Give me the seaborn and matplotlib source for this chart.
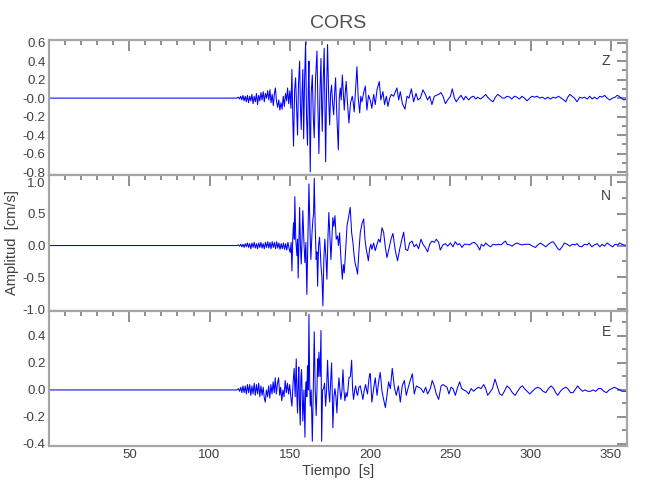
import matplotlib
matplotlib.use("Agg")
import matplotlib.pyplot as plt
import seaborn as sns
import numpy as np
from matplotlib.ticker import MultipleLocator, FixedLocator, FixedFormatter

# ---------------- data ----------------
z_time = [0, 117, 118, 118.7, 119.4, 120.1, 120.8, 121.5, 122.2, 122.9, 123.6, 124.3, 125, 125.7, 126.4, 127.1,
          127.8, 128.5, 129.2, 129.9, 130.6, 131.3, 132, 132.7, 133.4, 134.1, 134.8, 135.5, 136.2, 136.9, 137.6,
          138.3, 139, 139.7, 140.4, 141, 141.7, 142.4, 143.1, 143.8, 144.5, 145.2, 145.9, 146.6, 147.3, 148,
          148.6, 149.3, 150, 150.7, 151.3, 151.8, 152.3, 153.0, 153.6, 154.2, 154.8, 155.4, 156.1, 156.6, 157.1,
          157.6, 158.1, 158.6, 159.2, 159.8, 160.4, 161.0, 161.5, 161.9, 162.3, 162.7, 163.3, 164.0, 164.6,
          165.2, 166.0, 166.9, 167.5, 168.1, 168.8, 169.4, 169.8, 170.2, 170.8, 171.4, 171.9, 172.3, 172.9,
          173.5, 174.2, 174.8, 175.4, 176.0, 176.6, 177.3, 177.9, 178.5, 179.3, 180.2, 180.8, 181.4, 182.0,
          182.7, 183.3, 183.9, 184.5, 185.1, 185.9, 186.8, 187.8, 188.9, 189.5, 190.1, 191.0, 191.8, 192.6,
          193.5, 194.2, 194.9, 196.0, 197.0, 197.5, 198.0, 199.0, 200.1, 201.1, 202.2, 203.2, 204.3, 205.7,
          206.7, 208.0, 209.0, 210.1, 211.1, 212.2, 213.2, 214.6, 216.7, 217.8, 218.8, 220.1, 221.7, 223.0,
          224.2, 225.7, 227.1, 228.6, 229.8, 231.3, 232.9, 234.4, 235.8, 237.1, 238.5, 240.0, 241.2, 242.7,
          244.1, 245.4, 246.9, 248.3, 250.0, 251.2, 252.5, 253.7, 255.2, 256.6, 258.3, 259.5, 261.4, 262.9,
          264.5, 265.8, 267.0, 268.7, 270.3, 272.0, 273.2, 274.9, 276.6, 278.0, 279.5, 281.1, 282.4, 283.8,
          285.3, 287.0, 288.2, 289.9, 291.5, 293.0, 294.6, 296.1, 297.8, 299.4, 300.9, 302.3, 304.0, 305.7,
          307.3, 309.0, 310.6, 312.3, 314.0, 315.6, 317.3, 319.0, 320.6, 321.9, 323.1, 324.4, 325.8, 327.3,
          328.9, 330.6, 332.0, 333.5, 335.2, 336.8, 338.3, 339.7, 341.4, 343.1, 344.5, 346.0, 347.6, 349.3,
          351.0, 352.6, 353.9, 355.1, 356.4, 358.0, 360]
z_amp = [0, 0, 0.01, -0.01, 0.02, -0.02, 0.03, -0.03, 0.02, -0.04, 0.03, -0.05, 0.02, -0.03, 0.04, -0.06,
         0.02, -0.04, 0.05, -0.07, 0.03, -0.03, 0.06, -0.02, 0.07, -0.04, 0.05, 0.0, 0.08, -0.02, 0.09,
         -0.05, 0.04, -0.08, 0.05, 0.11, -0.03, -0.10, -0.02, -0.13, -0.05, -0.12, 0.02, -0.09, 0.05, -0.03,
         0.11, -0.06, 0.08, -0.11, 0.31, -0.20, -0.52, 0.10, 0.22, -0.10, -0.40, 0.15, 0.40, -0.10, -0.34,
         0.05, 0.31, -0.44, 0.20, 0.60, -0.20, -0.51, 0.10, 0.40, -0.20, -0.80, 0.05, 0.25, -0.20,
         -0.43, 0.20, 0.51, -0.10, -0.60, 0.10, 0.43, -0.10, -0.36, 0.20, 0.54, -0.20, -0.69, 0.10,
         0.58, 0.0, -0.29, 0.05, 0.14, -0.05, -0.18, 0.05, 0.22, -0.20, -0.56, 0.0, 0.11, -0.02,
         0.25, 0.05, -0.13, 0.05, 0.18, -0.05, -0.27, -0.05, 0.02, -0.05, -0.15, 0.10, 0.34, 0.0,
         -0.16, 0.02, -0.04, 0.06, 0.13, 0.0, -0.13, 0.03, -0.02, -0.11, 0.04, -0.07, 0.09, 0.18,
         -0.02, 0.07, -0.07, 0.02, -0.09, 0.0, 0.04, 0.02, 0.11, -0.02, 0.07, -0.06, -0.12, 0.02,
         0.0, 0.10, -0.04, 0.05, -0.02, 0.0, 0.09, 0.04, -0.02, 0.02, -0.07, 0.02, 0.03, 0.04,
         0.06, 0.02, -0.06, -0.02, 0.02, 0.10, 0.0, -0.04, 0.0, 0.03, -0.02, 0.02, -0.02, 0.01,
         0.02, -0.01, 0.01, -0.01, 0.01, 0.04, 0.01, -0.02, -0.04, 0.01, 0.04, 0.02, 0.0, 0.0,
         0.02, 0.01, -0.01, 0.02, 0.01, -0.01, 0.02, 0.0, -0.03, 0.0, 0.02, 0.01, 0.02, 0.0,
         0.01, -0.01, 0.01, -0.01, 0.01, 0.0, 0.02, 0.0, -0.02, -0.04, 0.01, 0.04, 0.02, 0.0,
         -0.04, 0.01, 0.0, 0.01, -0.01, 0.02, -0.01, 0.01, -0.01, 0.02, 0.01, 0.03, 0.0, -0.02,
         0.0, 0.01, 0.03, 0.02, 0.0, -0.02, -0.01]

n_time = [0, 117, 118, 118.7, 119.4, 120.1, 120.8, 121.5, 122.2, 122.9, 123.6, 124.3, 125, 125.7, 126.4,
          127.1, 127.8, 128.5, 129.2, 129.9, 130.6, 131.3, 132, 132.7, 133.4, 134.1, 134.8, 135.5, 136.2,
          136.9, 137.6, 138.3, 139, 139.7, 140.4, 141.1, 141.8, 142.5, 143.2, 143.9, 144.6, 145.3, 146,
          146.7, 147.4, 148.1, 148.8, 149.5, 150.2, 150.8, 151.3, 151.8, 152.3, 152.8, 153.1, 153.7, 154.4,
          154.8, 155.2, 155.7, 156.1, 156.6, 157.1, 157.6, 158.1, 158.7, 159.4, 160.0, 160.6, 161.3, 161.9,
          162.5, 163.1, 163.8, 164.4, 164.8, 165.2, 165.8, 166.4, 166.9, 167.3, 167.9, 168.5, 169.0, 169.4,
          170.0, 170.6, 171.2, 171.8, 172.5, 173.1, 173.7, 174.3, 175.0, 175.6, 176.2, 176.8, 177.4, 178.1,
          178.9, 179.7, 180.3, 181.0, 181.8, 182.7, 183.3, 183.9, 184.7, 185.6, 186.6, 187.6, 188.5, 189.3,
          190.0, 190.6, 191.4, 192.2, 193.0, 193.9, 195.0, 196.0, 196.8, 197.6, 198.3, 198.9, 199.7, 200.5,
          201.1, 202.2, 203.2, 204.3, 205.3, 206.3, 207.4, 208.4, 209.4, 210.5, 211.5, 213.0, 214.2, 215.7,
          217.1, 218.4, 219.8, 220.9, 222.1, 223.4, 224.6, 226.1, 227.5, 228.8, 230.2, 231.7, 232.9, 234.4,
          235.8, 237.1, 238.5, 240.0, 241.2, 242.7, 243.7, 245.4, 246.9, 248.3, 250.0, 251.6, 253.1, 254.5,
          255.8, 257.2, 258.7, 260.4, 262.0, 263.5, 264.9, 266.6, 268.3, 269.3, 270.8, 272.0, 273.2, 274.9,
          276.6, 278.2, 279.9, 281.6, 283.2, 284.3, 285.3, 287.0, 288.4, 289.9, 291.5, 293.2, 294.9, 296.1,
          297.8, 299.4, 301.1, 303.0, 304.4, 306.1, 307.7, 309.4, 311.1, 312.7, 314.0, 315.4, 316.9, 318.1,
          319.6, 321.0, 322.7, 324.4, 326.0, 327.7, 328.9, 330.2, 331.8, 333.5, 335.2, 336.4, 338.1, 339.7,
          341.4, 343.1, 344.5, 346.0, 347.6, 349.3, 351.0, 352.6, 354.3, 355.5, 356.9, 358.0, 360]
n_amp = [0, 0, 0.01, -0.01, 0.02, -0.02, 0.02, -0.03, 0.03, -0.02, 0.04, -0.03, 0.03, -0.05, 0.04,
         -0.03, 0.05, -0.04, 0.03, -0.05, 0.04, -0.03, 0.05, -0.04, 0.03, -0.05, 0.05, -0.03, 0.06,
         -0.04, 0.05, -0.05, 0.06, -0.03, 0.05, -0.05, 0.06, -0.04, 0.04, -0.06, 0.03, -0.05, 0.04,
         -0.06, 0.03, -0.07, 0.05, -0.04, -0.11, 0.05, -0.40, 0.10, 0.36, 0.10, 0.77, 0.10, -0.16,
         0.10, -0.51, 0.10, 0.60, 0.0, -0.29, 0.10, 0.55, 0.10, -0.27, 0.05, -0.77, 0.20, 0.97,
         0.30, -0.22, 0.20, 0.42, 0.50, 1.06, 0.30, -0.22, -0.10, -0.64, 0.0, 0.13, -0.10, -0.32,
         -0.50, -0.95, -0.20, 0.10, -0.20, -0.53, 0.10, 0.52, 0.10, -0.22, 0.10, 0.44, 0.30, 0.47,
         0.10, 0.15, 0.0, 0.20, -0.20, -0.53, -0.30, -0.43, -0.10, 0.31, 0.45, 0.60, 0.20, 0.05,
         -0.15, -0.27, -0.35, -0.45, -0.10, 0.21, 0.35, 0.42, 0.10, -0.06, -0.15, -0.24, -0.05, 0.02,
         -0.06, 0.04, -0.08, 0.02, 0.10, 0.05, 0.28, 0.21, -0.01, -0.19, -0.08, 0.10, 0.19, -0.08,
         -0.24, -0.06, 0.10, 0.21, -0.06, -0.08, 0.04, 0.07, -0.02, 0.02, -0.05, 0.10, 0.02, -0.03,
         -0.10, 0.02, 0.07, 0.05, 0.10, 0.05, -0.07, 0.01, 0.03, -0.01, 0.04, -0.02, 0.06, 0.01,
         0.03, -0.03, 0.02, 0.02, 0.01, 0.04, 0.05, 0.01, -0.07, 0.02, -0.01, 0.04, 0.01, -0.02,
         0.02, 0.01, 0.02, 0.01, 0.05, 0.07, 0.02, 0.01, -0.01, 0.02, 0.04, 0.02, 0.01, 0.02,
         0.02, 0.02, -0.01, -0.03, 0.01, 0.04, 0.01, -0.02, 0.02, 0.05, 0.06, 0.01, -0.05, -0.07,
         -0.02, 0.04, 0.02, -0.01, 0.02, 0.01, 0.03, -0.01, -0.02, 0.02, 0.01, 0.04, -0.02, 0.01,
         0.03, -0.02, 0.02, -0.01, 0.04, 0.01, -0.02, 0.02, 0.01, 0.04, 0.02, 0.01, 0.0]

e_time = [0, 117, 118, 118.7, 119.4, 120.1, 120.8, 121.5, 122.2, 122.9, 123.6, 124.3, 125, 125.7, 126.4,
          127.1, 127.8, 128.5, 129.2, 129.9, 130.6, 131.3, 132, 132.7, 133.4, 134.1, 134.7, 135.4, 136.1,
          136.8, 137.5, 138.2, 138.9, 139.6, 140.3, 140.9, 141.6, 142.3, 143, 143.7, 144.3, 145, 145.7,
          146.4, 147.1, 147.8, 148.5, 149.2, 149.9, 150.6, 151.3, 152.0, 152.7, 153.3, 154.0, 154.4, 154.8,
          155.2, 155.6, 156.0, 156.5, 156.9, 157.3, 157.7, 158.1, 158.8, 159.4, 159.8, 160.2, 160.6, 161.0,
          161.5, 161.9, 162.3, 162.7, 163.3, 164.0, 164.6, 165.2, 165.8, 166.4, 166.9, 167.3, 167.7, 168.1,
          168.8, 169.4, 169.8, 170.4, 171.0, 171.6, 172.3, 172.9, 173.5, 174.2, 174.8, 175.4, 176.0, 176.4,
          176.8, 177.5, 178.1, 178.7, 179.3, 180.0, 180.6, 181.2, 181.8, 182.5, 183.1, 183.7, 184.3, 185.0,
          185.6, 186.2, 186.8, 187.7, 188.5, 189.1, 189.7, 190.4, 191.0, 191.6, 192.2, 193.0, 193.9, 194.7,
          195.5, 196.4, 197.2, 197.8, 198.4, 199.0, 199.7, 200.1, 201.1, 202.2, 203.2, 204.3, 205.3, 206.3,
          207.4, 208.4, 209.5, 210.5, 211.5, 212.6, 213.8, 215.1, 216.3, 217.6, 218.8, 220.0, 221.3, 222.5,
          223.8, 225.0, 226.3, 227.5, 228.8, 230.2, 231.7, 233.3, 234.6, 235.8, 237.5, 238.7, 240.0, 241.2,
          242.7, 244.2, 245.4, 246.6, 247.9, 249.1, 250.4, 251.6, 253.1, 254.5, 255.8, 257.0, 258.3, 260.0,
          261.4, 262.9, 264.5, 266.2, 267.6, 269.1, 270.8, 272.0, 273.2, 274.5, 276.2, 277.8, 279.1, 280.7,
          282.2, 283.6, 285.3, 287.0, 288.6, 290.3, 291.9, 293.6, 294.9, 296.1, 297.8, 299.4, 301.1, 302.8,
          304.4, 306.1, 307.7, 309.4, 311.1, 312.7, 314.4, 315.6, 316.9, 318.5, 320.2, 321.9, 323.1, 324.8,
          326.4, 328.1, 329.3, 330.6, 332.3, 333.9, 335.6, 337.2, 338.9, 340.6, 342.2, 343.9, 345.6, 347.2,
          348.9, 350.5, 352.2, 353.9, 355.5, 357.0, 358.0, 360]
e_amp = [0, 0, 0.01, -0.01, 0.02, -0.02, 0.03, -0.02, 0.03, -0.03, 0.04, -0.02, 0.04, -0.04, 0.03,
         -0.03, 0.05, -0.04, 0.04, -0.03, 0.05, -0.05, 0.03, -0.04, 0.02, -0.06, -0.09, 0.0, -0.05,
         0.03, -0.06, 0.04, -0.03, 0.06, -0.02, 0.09, -0.03, 0.05, 0.09, -0.04, 0.02, -0.08, 0.0,
         -0.05, 0.07, -0.02, 0.05, -0.03, 0.04, -0.05, -0.12, 0.05, 0.16, -0.05, 0.23, -0.05, -0.17,
         0.05, 0.17, -0.10, -0.26, 0.10, 0.15, -0.05, -0.23, 0.0, -0.35, 0.0, 0.06, -0.05, 0.18,
         0.0, 0.56, 0.10, -0.12, 0.0, -0.38, 0.0, 0.43, 0.0, -0.19, 0.0, 0.23, 0.10, 0.28,
         0.10, 0.44, -0.38, 0.0, 0.01, 0.05, -0.12, 0.0, 0.22, 0.0, -0.09, 0.05, 0.20, 0.0,
         -0.28, -0.05, 0.01, -0.05, -0.17, 0.0, 0.09, 0.0, -0.07, 0.0, 0.15, 0.0, -0.08, -0.02,
         -0.05, 0.0, 0.09, 0.10, 0.22, 0.0, -0.07, 0.0, 0.03, -0.02, -0.04, 0.02, 0.03, -0.02,
         -0.07, 0.0, 0.04, 0.0, -0.03, 0.05, 0.12, 0.12, -0.09, 0.01, 0.09, -0.04, 0.06, 0.13,
         -0.01, -0.07, -0.13, -0.04, 0.06, 0.01, 0.16, 0.02, -0.04, 0.03, -0.09, 0.03, 0.07, -0.04,
         0.02, 0.07, 0.12, -0.03, 0.03, 0.02, 0.01, -0.02, 0.02, -0.03, 0.01, 0.07, 0.03, -0.03,
         -0.07, 0.03, 0.04, 0.03, 0.02, -0.03, 0.02, 0.01, -0.04, 0.02, 0.06, 0.01, 0.0, -0.01,
         -0.03, 0.01, -0.01, 0.01, 0.02, 0.01, 0.04, 0.01, -0.04, -0.02, 0.01, 0.08, 0.03, -0.03,
         -0.04, -0.01, 0.03, 0.01, -0.02, -0.04, -0.01, 0.02, 0.03, 0.01, -0.01, -0.03, -0.01, 0.01,
         0.02, 0.01, -0.01, -0.02, 0.01, 0.03, 0.01, -0.02, -0.04, -0.01, 0.01, 0.02, 0.01, -0.02,
         -0.02, 0.01, 0.03, 0.01, -0.01, 0.0, -0.01, -0.01, 0.0, -0.01, 0.01, 0.01, -0.01, -0.02,
         0.0, 0.01, 0.02, 0.01, 0.0, -0.01, -0.01, -0.01]

components = ["Z", "N", "E"]
title = "CORS"
x_label = "Tiempo  [s]"
y_label = "Amplitud  [cm/s]"
z_ticks = [-0.8, -0.6, -0.4, -0.2, 0.0, 0.2, 0.4, 0.6]
z_ticklabels = ["-0.8", "-0.6", "-0.4", "-0.2", "-0.0", "0.2", "0.4", "0.6"]
n_ticks = [-1.0, -0.5, 0.0, 0.5, 1.0]
n_ticklabels = ["-1.0", "-0.5", "0.0", "0.5", "1.0"]
e_ticks = [-0.4, -0.2, 0.0, 0.2, 0.4]
e_ticklabels = ["-0.4", "-0.2", "0.0", "0.2", "0.4"]
x_ticks = [50, 100, 150, 200, 250, 300, 350]

# ---------------- style ----------------
sns.set_style("white")
plt.rcParams["font.family"] = ["Liberation Sans", "DejaVu Sans"]
plt.rcParams["axes.unicode_minus"] = False

spine_c = "#a6a6a6"
tick_c = "#707070"
text_c = "#404040"

fig, axes = plt.subplots(3, 1, figsize=(6.5, 5.0), dpi=100, sharex=True)
fig.subplots_adjust(left=0.0754, right=0.9646, top=0.92, bottom=0.108, hspace=0)

series = [(z_time, z_amp, (-0.836, 0.629), z_ticks, z_ticklabels, 0.1),
          (n_time, n_amp, (-1.025, 1.105), n_ticks, n_ticklabels, 0.25),
          (e_time, e_amp, (-0.415, 0.587), e_ticks, e_ticklabels, 0.1)]

for ax, comp, (t, a, yl, yt, ytl, ymin) in zip(axes, components, series):
    sns.lineplot(x=t, y=a, ax=ax, color="#0000ff", linewidth=0.75, estimator=None, sort=False)
    ax.set_xlim(0, 360)
    ax.set_ylim(*yl)
    ax.yaxis.set_major_locator(FixedLocator(yt))
    ax.yaxis.set_major_formatter(FixedFormatter(ytl))
    ax.yaxis.set_minor_locator(MultipleLocator(ymin))
    ax.xaxis.set_major_locator(FixedLocator(x_ticks))
    ax.xaxis.set_minor_locator(MultipleLocator(10))
    for s in ax.spines.values():
        s.set_color(spine_c)
        s.set_linewidth(1.6)
    ax.tick_params(which="both", direction="in", top=True, right=True, color=tick_c,
                   labelcolor=text_c, labelsize=9.5, width=1.1, pad=2.5)
    ax.tick_params(which="major", axis="x", length=8)
    ax.tick_params(which="minor", axis="x", length=3.5)
    ax.tick_params(which="major", axis="y", length=7)
    ax.tick_params(which="minor", axis="y", length=3.5)
    ax.text(0.964, 0.845, comp, transform=ax.transAxes, ha="center", va="center",
            fontsize=10, color=text_c)
    ax.set_xlabel("")
    ax.set_ylabel("")

axes[0].set_title(title, fontsize=14, color="#505050", pad=9)
axes[1].set_ylabel(y_label, fontsize=10.5, color=text_c)
axes[1].yaxis.set_label_coords(-0.052, 0.5)
axes[2].set_xlabel(x_label, fontsize=10.5, color=text_c)
axes[2].xaxis.set_label_coords(0.5, -0.135)
axes[2].set_xticklabels([str(v) for v in x_ticks])

fig.savefig("out.png", dpi=100)
